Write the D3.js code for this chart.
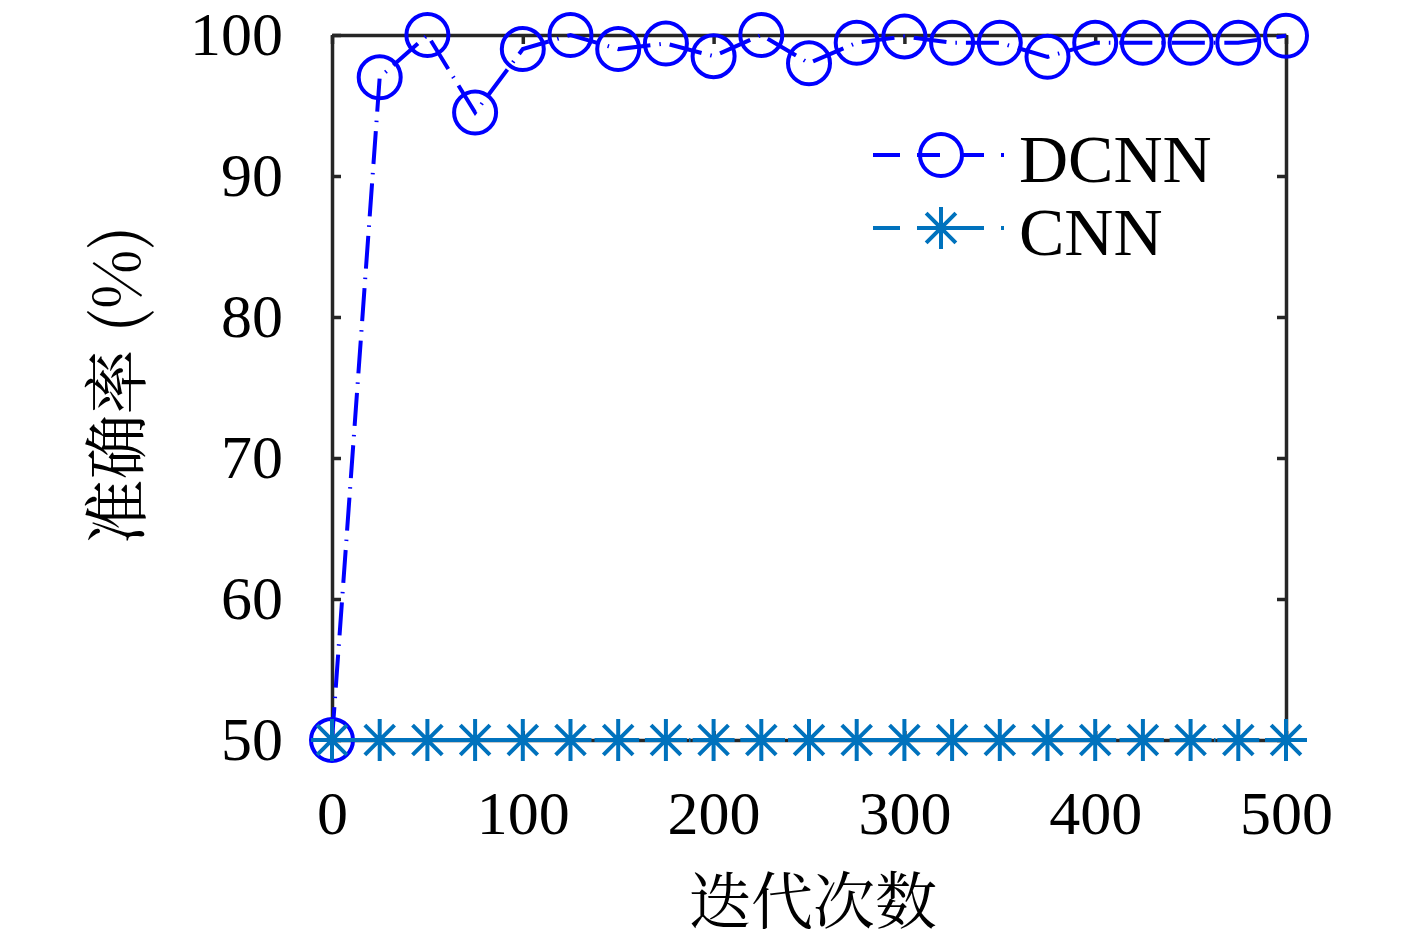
<!DOCTYPE html>
<html>
<head>
<meta charset="utf-8">
<script src="https://cdn.jsdelivr.net/npm/d3@7"></script>
<style>
  body { margin: 0; background: #fff; }
  svg { display: block; }
</style>
</head>
<body>
<div id="chart"></div>
<script>
// iterations (x) and accuracy (%) for both networks
const iterations = [0, 25, 50, 75, 100, 125, 150, 175, 200, 225, 250, 275, 300, 325, 350, 375, 400, 425, 450, 475, 500];
const dcnnAcc = [50, 97.0, 100, 94.5, 99.0, 100, 99.0, 99.4, 98.5, 100, 98.0, 99.45, 99.9, 99.45, 99.45, 98.45, 99.45, 99.45, 99.45, 99.45, 99.95];
const cnnAcc = [50, 50, 50, 50, 50, 50, 50, 50, 50, 50, 50, 50, 50, 50, 50, 50, 50, 50, 50, 50, 50];
const xTicks = [0, 100, 200, 300, 400, 500];
const yTicks = [50, 60, 70, 80, 90, 100];
const seriesNames = ['DCNN', 'CNN'];

const width = 1417, height = 945;
const margin = { top: 35, right: 131, bottom: 205, left: 332 };
const serif = '"Liberation Serif", "DejaVu Serif", serif';
const cjk = '"Noto Serif CJK SC", "Noto Sans CJK SC", sans-serif';
const axisColor = '#262626';
const dash = '33,9,1.5,9';
const lw = 4;

const svg = d3.select('#chart').append('svg')
  .attr('width', width)
  .attr('height', height);

svg.append('rect').attr('width', width).attr('height', height).attr('fill', '#fff');

const x = d3.scaleLinear().domain([0, 500]).range([margin.left, width - margin.right]);
const y = d3.scaleLinear().domain([50, 100]).range([height - margin.bottom, margin.top]);

// axes (box with inward ticks)
function styleAxis(g, labels) {
  g.select('.domain').attr('stroke', axisColor).attr('stroke-width', 3.5);
  g.selectAll('.tick line').attr('stroke', axisColor).attr('stroke-width', 3.5);
  g.selectAll('.tick text')
    .attr('fill', '#000')
    .style('font-family', serif)
    .style('font-size', '62px')
    .style('display', labels ? null : 'none');
}

svg.append('g')
  .attr('transform', `translate(${margin.left},0)`)
  .call(d3.axisLeft(y).tickValues(yTicks).tickSizeInner(-9).tickSizeOuter(0).tickPadding(49))
  .call(g => styleAxis(g, true));

svg.append('g')
  .attr('transform', `translate(${width - margin.right},0)`)
  .call(d3.axisRight(y).tickValues(yTicks).tickSizeInner(-9).tickSizeOuter(0))
  .call(g => styleAxis(g, false));

svg.append('g')
  .attr('transform', `translate(0,${margin.top})`)
  .call(d3.axisTop(x).tickValues(xTicks).tickSizeInner(-9).tickSizeOuter(0))
  .call(g => styleAxis(g, false));

svg.append('g')
  .attr('transform', `translate(0,${height - margin.bottom})`)
  .call(d3.axisBottom(x).tickValues(xTicks).tickSizeInner(-9).tickSizeOuter(0).tickPadding(50))
  .call(g => styleAxis(g, true));

// axis titles
svg.append('text')
  .attr('x', 813).attr('y', 924)
  .attr('text-anchor', 'middle')
  .style('font-family', cjk)
  .style('font-size', '62px')
  .text('迭代次数');

svg.append('text')
  .attr('transform', 'translate(112,385) rotate(-90)')
  .attr('text-anchor', 'middle')
  .attr('dominant-baseline', 'central')
  .style('font-family', cjk)
  .style('font-size', '65px')
  .text('准确率 (%)');

// series
const line = d3.line().x((d, i) => x(iterations[i])).y(d => y(d));

function drawCircle(g, cx, cy, color) {
  g.append('circle').attr('cx', cx).attr('cy', cy).attr('r', 21)
    .attr('fill', 'none').attr('stroke', color).attr('stroke-width', lw);
}
function drawStar(g, cx, cy, color) {
  const r = 21, d = r * Math.SQRT1_2;
  const p = `M${cx - r},${cy}L${cx + r},${cy}M${cx},${cy - r}L${cx},${cy + r}` +
    `M${cx - d},${cy - d}L${cx + d},${cy + d}M${cx - d},${cy + d}L${cx + d},${cy - d}`;
  g.append('path').attr('d', p).attr('fill', 'none').attr('stroke', color).attr('stroke-width', lw);
}

const series = [
  { name: seriesNames[0], values: dcnnAcc, color: '#0000FF', marker: drawCircle },
  { name: seriesNames[1], values: cnnAcc, color: '#0072BD', marker: drawStar }
];

series.forEach(s => {
  const g = svg.append('g');
  g.append('path')
    .attr('d', line(s.values))
    .attr('fill', 'none')
    .attr('stroke', s.color)
    .attr('stroke-width', lw)
    .attr('stroke-dasharray', dash);
  s.values.forEach((v, i) => s.marker(g, x(iterations[i]), y(v), s.color));
});

// legend
const legend = svg.append('g');
series.forEach((s, i) => {
  const ly = 155 + i * 73;
  legend.append('line')
    .attr('x1', 873).attr('x2', 1009).attr('y1', ly).attr('y2', ly)
    .attr('stroke', s.color).attr('stroke-width', lw)
    .attr('stroke-dasharray', '27,17,23,20,24,17,3');
  s.marker(legend, 941, ly, s.color);
  legend.append('text')
    .attr('x', 1019).attr('y', ly + 27)
    .style('font-family', serif)
    .style('font-size', '68px')
    .text(s.name);
});
</script>
</body>
</html>
